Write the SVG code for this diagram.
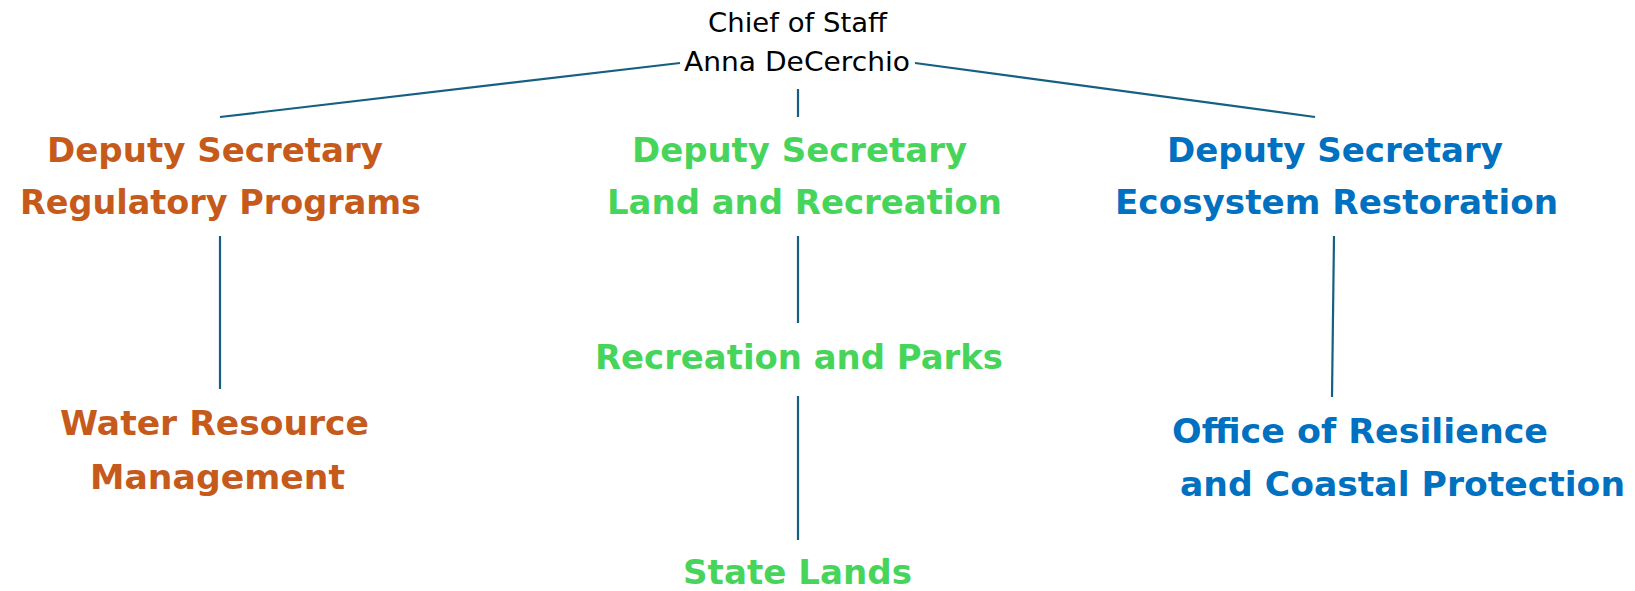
<svg xmlns="http://www.w3.org/2000/svg" width="1635" height="591" viewBox="0 0 1635 591">
<style>
.bg{fill:#ffffff}
.top{font-family:"DejaVu Sans","Liberation Sans",sans-serif;font-size:27px;fill:#000000}
.lbl{font-family:"DejaVu Sans","Liberation Sans",sans-serif;font-size:34px;font-weight:bold}
.orange{fill:#C55A1B}
.green{fill:#47D45A}
.blue{fill:#0070C0}
.conn line{stroke:#156082;stroke-width:2.2;fill:none}
</style>
<rect class="bg" x="0" y="0" width="1635" height="591"/>
<g id="connectors" class="conn">
<line x1="220" y1="117" x2="680" y2="63"/>
<line x1="915" y1="63" x2="1315" y2="117"/>
<line x1="798" y1="89" x2="798" y2="117"/>
<line x1="220" y1="236" x2="220" y2="389"/>
<line x1="798" y1="236" x2="798" y2="323"/>
<line x1="798" y1="396" x2="798" y2="540"/>
<line x1="1334" y1="236" x2="1332" y2="397"/>
</g>
<g id="chief-of-staff">
<text class="top" x="708" y="32" textLength="179" lengthAdjust="spacingAndGlyphs">Chief of Staff</text>
<text class="top" x="684" y="71" textLength="226" lengthAdjust="spacingAndGlyphs">Anna DeCerchio</text>
</g>
<g id="ds-regulatory">
<text class="lbl orange" x="47" y="162" textLength="336" lengthAdjust="spacingAndGlyphs">Deputy Secretary</text>
<text class="lbl orange" x="20" y="214" textLength="401" lengthAdjust="spacingAndGlyphs">Regulatory Programs</text>
</g>
<g id="ds-land">
<text class="lbl green" x="632" y="162" textLength="335" lengthAdjust="spacingAndGlyphs">Deputy Secretary</text>
<text class="lbl green" x="607" y="214" textLength="395" lengthAdjust="spacingAndGlyphs">Land and Recreation</text>
</g>
<g id="ds-ecosystem">
<text class="lbl blue" x="1167" y="162" textLength="336" lengthAdjust="spacingAndGlyphs">Deputy Secretary</text>
<text class="lbl blue" x="1115" y="214" textLength="443" lengthAdjust="spacingAndGlyphs">Ecosystem Restoration</text>
</g>
<g id="water-resource">
<text class="lbl orange" x="60" y="435" textLength="309" lengthAdjust="spacingAndGlyphs">Water Resource</text>
<text class="lbl orange" x="90" y="489" textLength="255" lengthAdjust="spacingAndGlyphs">Management</text>
</g>
<g id="recreation-parks">
<text class="lbl green" x="595" y="369" textLength="408" lengthAdjust="spacingAndGlyphs">Recreation and Parks</text>
</g>
<g id="state-lands">
<text class="lbl green" x="683" y="584" textLength="229" lengthAdjust="spacingAndGlyphs">State Lands</text>
</g>
<g id="resilience">
<text class="lbl blue" x="1172" y="443" textLength="376" lengthAdjust="spacingAndGlyphs">Office of Resilience</text>
<text class="lbl blue" x="1180" y="496" textLength="445" lengthAdjust="spacingAndGlyphs">and Coastal Protection</text>
</g>
</svg>
